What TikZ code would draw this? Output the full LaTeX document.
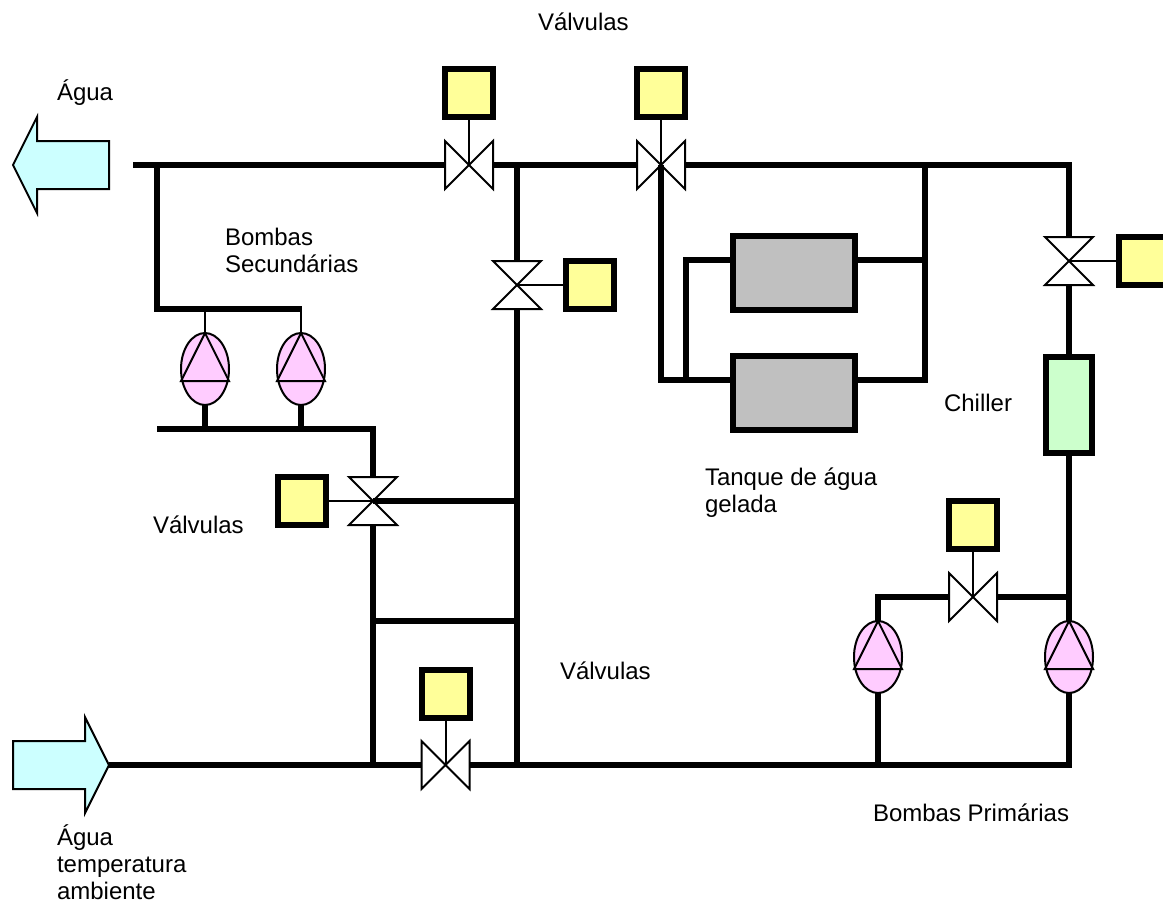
\documentclass[tikz,border=0pt]{standalone}
\usepackage{fontspec}
\setmainfont{Liberation Sans}
\usetikzlibrary{shapes.geometric,shapes.arrows}
\definecolor{ctl}{HTML}{FFFF99}
\definecolor{pumpc}{HTML}{FFCCFF}
\definecolor{watr}{HTML}{CCFFFF}
\definecolor{tankc}{HTML}{C0C0C0}
\definecolor{chil}{HTML}{CCFFCC}
\tikzset{
  pipe/.style={line width=4.4pt,line cap=butt,line join=miter},
  stem/.style={line width=1.5pt},
  thin outline/.style={draw=black,line width=1.5pt},
  ctlbox/.style={draw=black,fill=ctl,line width=4.5pt,minimum size=36pt,inner sep=0pt,outer sep=0pt,shape=rectangle},
  tankbox/.style={draw=black,fill=tankc,line width=4.5pt,minimum width=91pt,minimum height=55pt,inner sep=0pt,outer sep=0pt,shape=rectangle},
  chillerbox/.style={draw=black,fill=chil,line width=4.5pt,minimum width=35pt,minimum height=72pt,inner sep=0pt,outer sep=0pt,shape=rectangle},
  valvespot/.style={minimum size=36pt,inner sep=0pt,outer sep=0pt,shape=rectangle},
  pumpshape/.style={thin outline,fill=pumpc,shape=ellipse,minimum width=36pt,minimum height=54pt,inner sep=0pt,outer sep=0pt},
  waterarrow/.style={thin outline,fill=watr,line join=miter},
  lbl/.style={anchor=base west,inner sep=0pt,outer sep=0pt,font=\fontsize{18}{20.25}\selectfont,align=left}
}
% valve with flow left-right
\newcommand{\valveH}[3]{%
  \node[valvespot] (#1) at (#2,#3) {};
  \draw[thin outline,fill=white,line join=miter] (#1.north west) -- (#1.south east) -- (#1.north east) -- (#1.south west) -- cycle;
}
% valve with flow top-bottom
\newcommand{\valveV}[3]{%
  \node[valvespot] (#1) at (#2,#3) {};
  \draw[thin outline,fill=white,line join=miter] (#1.north west) -- (#1.south east) -- (#1.south west) -- (#1.north east) -- cycle;
}
\newcommand{\pumpsym}[3]{%
  \node[pumpshape] (#1) at (#2,#3) {};
  \draw[thin outline,line join=miter] (#1.north) -- (#1.west |- 0,#3+12) -- (#1.east |- 0,#3+12) -- cycle;
}
\begin{document}
\begin{tikzpicture}[x=0.75pt,y=-0.75pt]
\useasboundingbox (0,0) rectangle (1163,901);
% named pipe points
\coordinate (topL) at (133,165);
\coordinate (topJ1) at (157,165);
\coordinate (secL) at (157,309);
\coordinate (secR) at (302,309);
\coordinate (sucL) at (157,429);
\coordinate (sucR) at (373,429);
\coordinate (topM) at (517,165);
\coordinate (botM) at (517,765);
\coordinate (midL1) at (373,501);
\coordinate (midR1) at (517,501);
\coordinate (midL2) at (373,621);
\coordinate (midR2) at (517,621);
\coordinate (botL) at (373,765);
\coordinate (inlet) at (109,765);
\coordinate (tankRT) at (925,165);
\coordinate (tankRB) at (925,380);
\coordinate (tankRU) at (925,260);
\coordinate (tankLB) at (661,380);
\coordinate (tankLM) at (686,380);
\coordinate (tankLU) at (686,260);
\coordinate (topR) at (1069,165);
\coordinate (botP1) at (878,765);
\coordinate (botR) at (1069,765);
\coordinate (pVL) at (878,597);
\coordinate (pVR) at (1069,597);
% equipment
\valveH{v1}{469}{165}
\valveH{v2}{661}{165}
\valveV{v3}{517}{285}
\valveV{v4}{1069}{261}
\valveV{v5}{373}{501}
\valveH{v6}{445.5}{765}
\valveH{v7}{973}{597}
\node[ctlbox] (c1) at (469,93) {};
\node[ctlbox] (c2) at (661,93) {};
\node[ctlbox] (c3) at (589.5,285) {};
\node[ctlbox] (c4) at (1143,261) {};
\node[ctlbox] (c5) at (301.5,501) {};
\node[ctlbox] (c6) at (445.5,693.5) {};
\node[ctlbox] (c7) at (973,525) {};
\draw[stem] (c1.south) -- (v1.center);
\draw[stem] (c2.south) -- (v2.center);
\draw[stem] (c3.west) -- (v3.center);
\draw[stem] (c4.west) -- (v4.center);
\draw[stem] (c5.east) -- (v5.center);
\draw[stem] (c6.south) -- (v6.center);
\draw[stem] (c7.south) -- (v7.center);
\pumpsym{p1}{205}{369}
\pumpsym{p2}{301}{369}
\pumpsym{p3}{878}{657}
\pumpsym{p4}{1069}{657}
\node[tankbox] (t1) at (794,273) {};
\node[tankbox] (t2) at (794,393) {};
\node[chillerbox] (ch) at (1069,405) {};
% arrows
\draw[waterarrow] (13,165) -- (37,117) -- (37,141) -- (109,141) -- (109,189) -- (37,189) -- (37,213) -- cycle;
\draw[waterarrow] (13,741) -- (85,741) -- (85,717) -- (109,765) -- (85,813) -- (85,789) -- (13,789) -- cycle;
% pipes
\draw[pipe] (topL) -- (v1.west);
\draw[pipe] (topJ1) -- (secL) -- (secR);
\draw[stem] (p1.north) -- (p1.north |- secL);
\draw[stem] (p2.north) -- (p2.north |- secL);
\draw[pipe] (p1.south) -- (p1.south |- sucL);
\draw[pipe] (p2.south) -- (p2.south |- sucL);
\draw[pipe] (sucL) -- (sucR) -- (v5.north);
\draw[pipe] (v5.south) -- (botL);
\draw[pipe] (v1.east) -- (v2.west);
\draw[pipe] (topM) -- (v3.north);
\draw[pipe] (v3.south) -- (botM);
\draw[pipe] (midL1) -- (midR1);
\draw[pipe] (midL2) -- (midR2);
\draw[pipe] (inlet) -- (v6.west);
\draw[pipe] (v6.east) -- (botR) -- (p4.south);
\draw[pipe] (v2.east) -- (topR) -- (v4.north);
\draw[pipe] (v2.center) -- (tankLB) -- (t2.west |- tankLB);
\draw[pipe] (tankLM) -- (tankLU) -- (t1.west |- tankLU);
\draw[pipe] (tankRT) -- (tankRB) -- (t2.east |- tankRB);
\draw[pipe] (tankRU) -- (t1.east |- tankRU);
\draw[pipe] (v4.south) -- (ch.north);
\draw[pipe] (ch.south) -- (p4.north);
\draw[pipe] (v7.east) -- (pVR);
\draw[pipe] (v7.west) -- (pVL) -- (p3.north);
\draw[pipe] (p3.south) -- (botP1);
% labels
\node[lbl] (l1) at (538,30) {Válvulas};
\node[lbl] (l2) at (57,100.5) {Água};
\node[lbl] (l3) at (225,272) {Bombas\\Secundárias};
\node[lbl] (l4) at (153,533) {Válvulas};
\node[lbl] (l5) at (944,411) {Chiller};
\node[lbl] (l6) at (705,512) {Tanque de água\\gelada};
\node[lbl] (l7) at (560,679) {Válvulas};
\node[lbl] (l8) at (873,821) {Bombas Primárias};
\node[lbl] (l9) at (57,899) {Água\\temperatura\\ambiente};
\end{tikzpicture}
\end{document}
